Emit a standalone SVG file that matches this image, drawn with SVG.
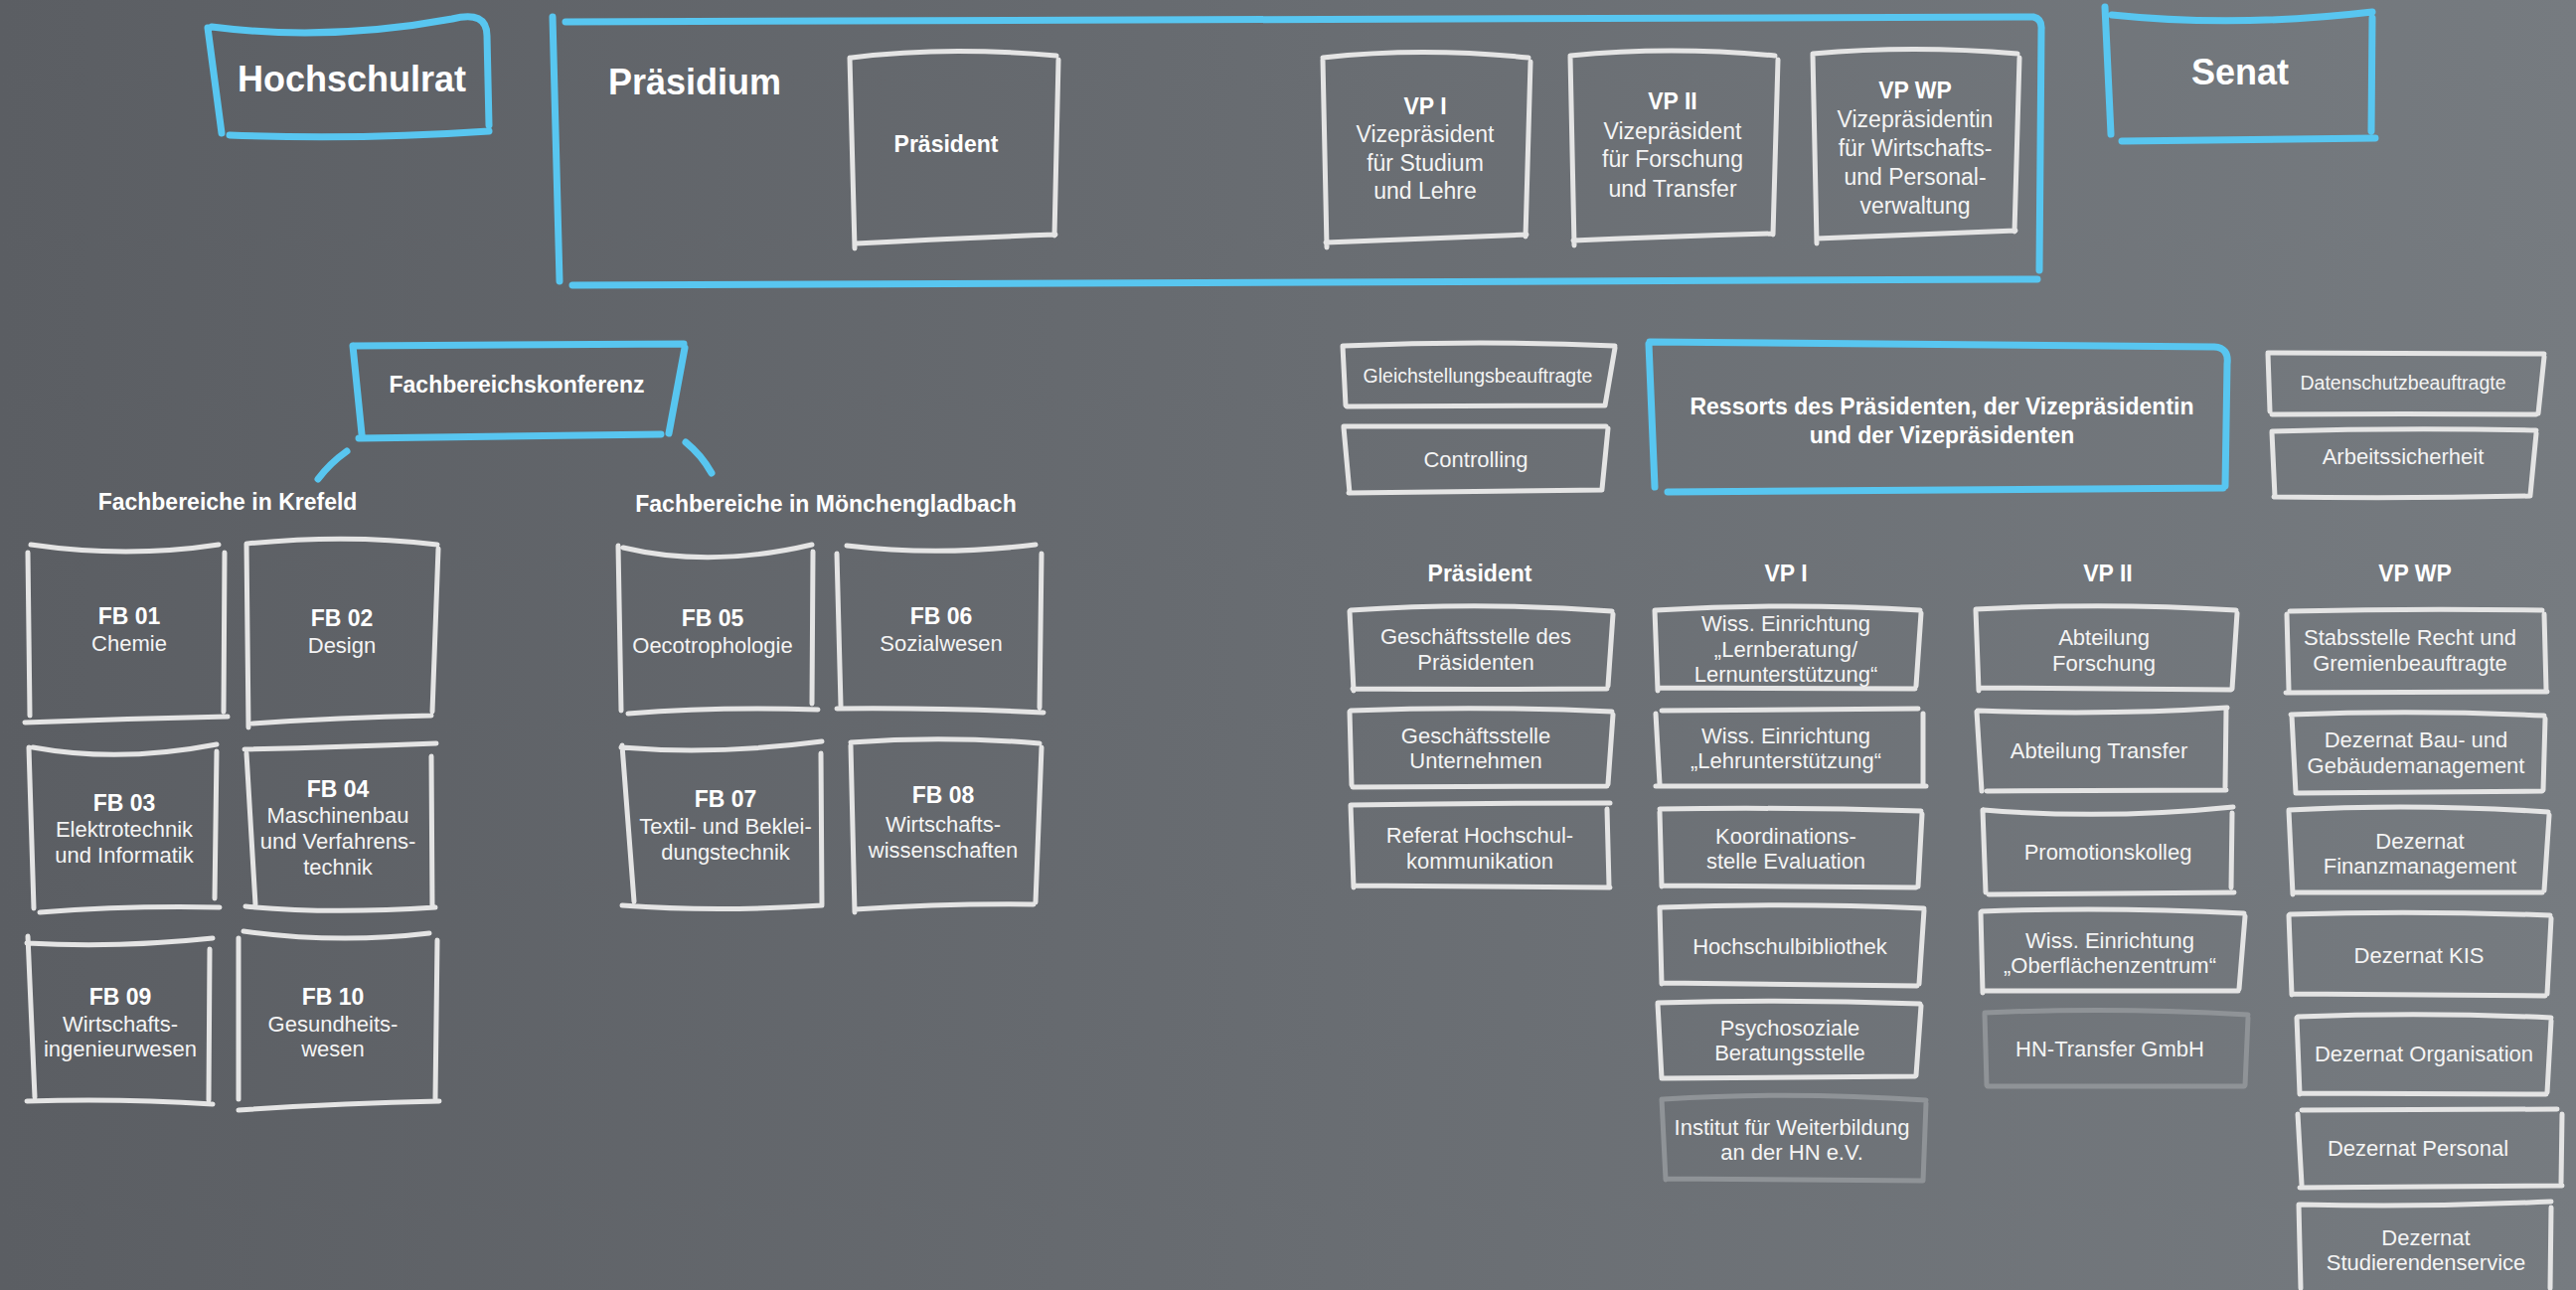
<svg xmlns="http://www.w3.org/2000/svg" width="2592" height="1298" viewBox="0 0 2592 1298">
<defs>
<linearGradient id="bg" x1="0" y1="0" x2="1" y2="0">
<stop offset="0" stop-color="#5b5e63"/>
<stop offset="1" stop-color="#767b80"/>
</linearGradient>
<style>
.w{fill:none;stroke:#e4e4e4;stroke-width:5;stroke-linecap:round;stroke-linejoin:round}
.bl{fill:none;stroke:#58c6f0;stroke-width:7;stroke-linecap:round;stroke-linejoin:round}
.gr{fill:none;stroke:#8f9397;stroke-width:5;stroke-linecap:round;stroke-linejoin:round}
text{font-family:"Liberation Sans",Arial,Helvetica,sans-serif;fill:#f4f4f4;text-anchor:middle}
.big{font-size:36px;font-weight:bold;fill:#ffffff}
.hd{font-size:23px;font-weight:bold;fill:#ffffff}
.tx{font-size:22px}
.vp{font-size:23px}
.sm{font-size:19.5px}
</style>
</defs>
<rect x="0" y="0" width="2592" height="1298" fill="url(#bg)"/>

<g id="hochschulrat">
<path class="bl" d="M213,27 Q330,42 455,19 Q490,10 490,36 L492,126 M231,136 Q360,141 492,132 M209,28 L223,134"/>
<text class="big" x="354" y="92">Hochschulrat</text>
</g>

<g id="praesidium">
<path class="bl" d="M569,22 L2046,17 Q2055,19 2054,30 L2052,272 M576,287 L2050,281 M556,17 L563,283"/>
<text class="big" x="612" y="95" style="text-anchor:start">Präsidium</text>
</g>

<g id="praesident">
<path class="w" d="M857,58 Q950,46 1063,56 M1065,60 L1061,237 M1062,236 Q950,240 861,245 M860,250 L855,58"/>
<text class="hd" x="952" y="153">Präsident</text>
</g>

<g id="vp1">
<path class="w" d="M1331,58 Q1430,47 1538,58 M1540,62 L1535,238 M1536,236 Q1430,240 1334,244 M1335,249 L1331,60"/>
<text class="hd" x="1434" y="115">VP I</text>
<text class="vp" x="1434" y="143">Vizepräsident</text>
<text class="vp" x="1434" y="172">für Studium</text>
<text class="vp" x="1434" y="200">und Lehre</text>
</g>

<g id="vp2">
<path class="w" d="M1580,56 Q1680,46 1786,56 M1789,60 L1784,236 M1784,235 Q1680,238 1583,242 M1584,247 L1580,57"/>
<text class="hd" x="1683" y="110">VP II</text>
<text class="vp" x="1683" y="140">Vizepräsident</text>
<text class="vp" x="1683" y="168">für Forschung</text>
<text class="vp" x="1683" y="198">und Transfer</text>
</g>

<g id="vpwp">
<path class="w" d="M1824,54 Q1925,45 2030,54 M2032,58 L2027,233 M2028,232 Q1925,236 1828,240 M1828,245 L1824,55"/>
<text class="hd" x="1927" y="99">VP WP</text>
<text class="vp" x="1927" y="128">Vizepräsidentin</text>
<text class="vp" x="1927" y="157">für Wirtschafts-</text>
<text class="vp" x="1927" y="186">und Personal-</text>
<text class="vp" x="1927" y="215">verwaltung</text>
</g>

<g id="senat">
<path class="bl" d="M2125,15 Q2250,28 2387,12 M2387,18 L2386,132 M2135,142 L2390,139 M2118,7 L2124,135"/>
<text class="big" x="2254" y="85">Senat</text>
</g>

<g id="fachbereichskonferenz">
<path class="bl" d="M356,348 L688,346 M689,350 L673,436 M361,441 L665,437 M355,348 L364,437"/>
<text class="hd" x="520" y="395">Fachbereichskonferenz</text>
</g>

<g id="connectors">
<path class="bl" d="M349,454 Q332,466 320,482 M690,445 Q706,458 716,476"/>
</g>

<g id="krefeld-label"><text class="hd" x="229" y="513">Fachbereiche in Krefeld</text></g>
<g id="mg-label"><text class="hd" x="831" y="515">Fachbereiche in Mönchengladbach</text></g>

<g id="fb01">
<path class="w" d="M31,548 Q128,562 220,548 M226,556 L225,716 M229,721 Q130,723 25,727 M28,556 L30,720"/>
<text class="hd" x="130" y="628">FB 01</text>
<text class="tx" x="130" y="655">Chemie</text>
</g>
<g id="fb02">
<path class="w" d="M249,547 Q350,537 440,548 M441,552 L435,716 M434,720 Q340,722 254,728 M250,732 L248,547"/>
<text class="hd" x="344" y="630">FB 02</text>
<text class="tx" x="344" y="657">Design</text>
</g>
<g id="fb05">
<path class="w" d="M627,551 Q715,572 817,548 M818,555 L817,708 M823,714 Q720,711 632,718 M625,715 L622,549"/>
<text class="hd" x="717" y="630">FB 05</text>
<text class="tx" x="717" y="657">Oecotrophologie</text>
</g>
<g id="fb06">
<path class="w" d="M852,549 Q945,560 1042,548 M1048,557 L1046,712 M1050,717 Q950,712 842,713 M846,710 L842,557"/>
<text class="hd" x="947" y="628">FB 06</text>
<text class="tx" x="947" y="655">Sozialwesen</text>
</g>
<g id="fb03">
<path class="w" d="M33,752 Q120,768 218,749 M218,756 L216,904 M221,913 Q130,911 40,918 M34,914 L29,752"/>
<text class="hd" x="125" y="816">FB 03</text>
<text class="tx" x="125" y="842">Elektrotechnik</text>
<text class="tx" x="125" y="868">und Informatik</text>
</g>
<g id="fb04">
<path class="w" d="M246,754 Q340,752 439,748 M434,761 L435,913 M438,913 Q330,920 247,912 M257,910 L248,758"/>
<text class="hd" x="340" y="802">FB 04</text>
<text class="tx" x="340" y="828">Maschinenbau</text>
<text class="tx" x="340" y="854">und Verfahrens-</text>
<text class="tx" x="340" y="880">technik</text>
</g>
<g id="fb07">
<path class="w" d="M625,752 Q720,760 827,746 M826,758 L827,910 M827,911 Q720,918 626,911 M638,907 L626,750"/>
<text class="hd" x="730" y="812">FB 07</text>
<text class="tx" x="730" y="839">Textil- und Beklei-</text>
<text class="tx" x="730" y="865">dungstechnik</text>
</g>
<g id="fb08">
<path class="w" d="M856,747 Q950,740 1046,748 M1048,752 L1042,908 M1040,910 Q950,909 860,915 M860,918 L856,750"/>
<text class="hd" x="949" y="808">FB 08</text>
<text class="tx" x="949" y="837">Wirtschafts-</text>
<text class="tx" x="949" y="863">wissenschaften</text>
</g>
<g id="fb09">
<path class="w" d="M27,949 Q120,954 214,944 M211,955 L210,1107 M214,1111 Q120,1105 27,1108 M35,1104 L28,942"/>
<text class="hd" x="121" y="1011">FB 09</text>
<text class="tx" x="121" y="1038">Wirtschafts-</text>
<text class="tx" x="121" y="1063">ingenieurwesen</text>
</g>
<g id="fb10">
<path class="w" d="M245,937 Q340,950 432,939 M440,946 L438,1105 M442,1108 Q340,1110 240,1117 M240,1106 L240,944"/>
<text class="hd" x="335" y="1011">FB 10</text>
<text class="tx" x="335" y="1038">Gesundheits-</text>
<text class="tx" x="335" y="1063">wesen</text>
</g>

<g id="gleichstellung">
<path class="w" d="M1352,348 Q1490,342 1625,348 M1625,350 L1615,408 M1614,408 Q1490,408 1355,409 M1354,408 L1351,348"/>
<text class="sm" x="1487" y="385">Gleichstellungsbeauftragte</text>
</g>
<g id="controlling">
<path class="w" d="M1352,429 L1616,429 M1618,431 L1612,492 M1612,493 L1357,496 M1358,496 L1352,430"/>
<text class="tx" x="1485" y="470">Controlling</text>
</g>
<g id="ressorts">
<path class="bl" d="M1660,344 L2228,349 Q2243,350 2241,366 L2239,489 M1678,495 L2237,491 M1659,346 L1665,490"/>
<text class="hd" x="1954" y="417">Ressorts des Präsidenten, der Vizepräsidentin</text>
<text class="hd" x="1954" y="446">und der Vizepräsidenten</text>
</g>
<g id="datenschutz">
<path class="w" d="M2282,355 Q2420,355 2560,356 M2560,359 L2554,416 M2552,417 Q2420,416 2286,417 M2284,414 L2282,356"/>
<text class="sm" x="2418" y="392">Datenschutzbeauftragte</text>
</g>
<g id="arbeitssicherheit">
<path class="w" d="M2286,434 Q2420,430 2552,433 M2552,436 L2546,498 M2546,499 Q2420,502 2288,500 M2289,500 L2286,435"/>
<text class="tx" x="2418" y="467">Arbeitssicherheit</text>
</g>

<g id="col-headers">
<text class="hd" x="1489" y="585">Präsident</text>
<text class="hd" x="1797" y="585">VP I</text>
<text class="hd" x="2121" y="585">VP II</text>
<text class="hd" x="2430" y="585">VP WP</text>
</g>

<g id="p1">
<path class="w" d="M1359,614 Q1490,605 1622,615 M1623,618 L1618,690 M1617,693 Q1490,694 1361,693 M1362,695 L1358,615"/>
<text class="tx" x="1485" y="648">Geschäftsstelle des</text>
<text class="tx" x="1485" y="674">Präsidenten</text>
</g>
<g id="p2">
<path class="w" d="M1359,715 Q1490,710 1622,716 M1623,719 L1618,789 M1617,791 L1361,792 M1360,790 L1358,716"/>
<text class="tx" x="1485" y="748">Geschäftsstelle</text>
<text class="tx" x="1485" y="773">Unternehmen</text>
</g>
<g id="p3">
<path class="w" d="M1359,810 Q1490,808 1620,808 M1617,814 L1619,891 M1620,893 L1362,891 M1362,893 L1359,810"/>
<text class="tx" x="1489" y="848">Referat Hochschul-</text>
<text class="tx" x="1489" y="874">kommunikation</text>
</g>

<g id="v1">
<path class="w" d="M1666,614 Q1800,606 1932,614 M1933,617 L1928,690 M1927,693 Q1800,692 1668,692 M1668,695 L1665,614"/>
<text class="tx" x="1797" y="635">Wiss. Einrichtung</text>
<text class="tx" x="1797" y="661">„Lernberatung/</text>
<text class="tx" x="1797" y="686">Lernunterstützung“</text>
</g>
<g id="v2">
<path class="w" d="M1672,715 L1930,713 M1935,718 L1935,788 M1938,791 L1666,791 M1670,789 L1666,718"/>
<text class="tx" x="1797" y="748">Wiss. Einrichtung</text>
<text class="tx" x="1797" y="773">„Lehrunterstützung“</text>
</g>
<g id="v3">
<path class="w" d="M1670,814 Q1800,812 1933,816 M1934,819 L1930,892 M1928,893 L1672,891 M1672,892 L1670,817"/>
<text class="tx" x="1797" y="849">Koordinations-</text>
<text class="tx" x="1797" y="874">stelle Evaluation</text>
</g>
<g id="v4">
<path class="w" d="M1672,913 Q1800,908 1936,914 M1936,916 L1931,990 M1929,992 L1673,989 M1672,990 L1670,913"/>
<text class="tx" x="1801" y="960">Hochschulbibliothek</text>
</g>
<g id="v5">
<path class="w" d="M1668,1009 Q1800,1005 1932,1010 M1933,1012 L1928,1082 M1927,1083 L1673,1085 M1672,1085 L1668,1010"/>
<text class="tx" x="1801" y="1042">Psychosoziale</text>
<text class="tx" x="1801" y="1067">Beratungsstelle</text>
</g>
<g id="v6">
<path class="gr" d="M1674,1106 Q1800,1098 1938,1107 M1938,1110 L1935,1188 M1934,1188 L1676,1186 M1676,1187 L1672,1106"/>
<text class="tx" x="1803" y="1142">Institut für Weiterbildung</text>
<text class="tx" x="1803" y="1167">an der HN e.V.</text>
</g>

<g id="w1">
<path class="w" d="M1988,613 Q2120,606 2250,614 M2251,617 L2246,693 M2245,694 L1991,692 M1991,695 L1988,614"/>
<text class="tx" x="2117" y="649">Abteilung</text>
<text class="tx" x="2117" y="675">Forschung</text>
</g>
<g id="w2">
<path class="w" d="M1990,715 Q2120,720 2241,712 M2240,714 L2239,792 M2240,795 L1999,796 M1994,796 L1989,716"/>
<text class="tx" x="2112" y="763">Abteilung Transfer</text>
</g>
<g id="w3">
<path class="w" d="M1996,815 Q2120,825 2247,812 M2246,818 L2245,893 M2248,898 L2001,900 M1998,898 L1995,815"/>
<text class="tx" x="2121" y="865">Promotionskolleg</text>
</g>
<g id="w4">
<path class="w" d="M1994,917 Q2120,912 2258,919 M2259,922 L2253,995 M2252,997 L1996,997 M1995,999 L1993,918"/>
<text class="tx" x="2123" y="954">Wiss. Einrichtung</text>
<text class="tx" x="2123" y="979">„Oberflächenzentrum“</text>
</g>
<g id="w5">
<path class="gr" d="M1997,1019 Q2130,1013 2262,1021 M2262,1024 L2259,1092 M2258,1093 L2000,1093 M1999,1092 L1997,1020"/>
<text class="tx" x="2123" y="1063">HN-Transfer GmbH</text>
</g>

<g id="x1">
<path class="w" d="M2304,615 Q2430,612 2558,614 M2560,618 L2562,694 M2563,696 L2300,697 M2303,694 L2301,618"/>
<text class="tx" x="2425" y="649">Stabsstelle Recht und</text>
<text class="tx" x="2425" y="675">Gremienbeauftragte</text>
</g>
<g id="x2">
<path class="w" d="M2305,719 Q2430,714 2560,720 M2561,723 L2559,795 M2558,796 L2311,798 M2310,798 L2306,720"/>
<text class="tx" x="2431" y="752">Dezernat Bau- und</text>
<text class="tx" x="2431" y="778">Gebäudemanagement</text>
</g>
<g id="x3">
<path class="w" d="M2303,815 Q2430,808 2564,817 M2565,820 L2560,896 M2558,898 L2308,898 M2307,900 L2303,816"/>
<text class="tx" x="2435" y="854">Dezernat</text>
<text class="tx" x="2435" y="879">Finanzmanagement</text>
</g>
<g id="x4">
<path class="w" d="M2304,920 Q2430,916 2566,921 M2567,924 L2563,1000 M2561,1002 L2307,1000 M2306,1001 L2303,921"/>
<text class="tx" x="2434" y="969">Dezernat KIS</text>
</g>
<g id="x5">
<path class="w" d="M2312,1023 Q2440,1018 2567,1024 M2567,1027 L2563,1099 M2562,1101 L2315,1100 M2314,1101 L2311,1024"/>
<text class="tx" x="2439" y="1068">Dezernat Organisation</text>
</g>
<g id="x6">
<path class="w" d="M2316,1117 L2573,1116 M2578,1121 L2577,1190 M2578,1193 L2314,1195 M2316,1192 L2312,1121"/>
<text class="tx" x="2433" y="1163">Dezernat Personal</text>
</g>
<g id="x7">
<path class="w" d="M2315,1212 Q2440,1215 2567,1209 M2567,1215 L2566,1296 M2315,1296 L2313,1212"/>
<text class="tx" x="2441" y="1253">Dezernat</text>
<text class="tx" x="2441" y="1278">Studierendenservice</text>
</g>
</svg>
